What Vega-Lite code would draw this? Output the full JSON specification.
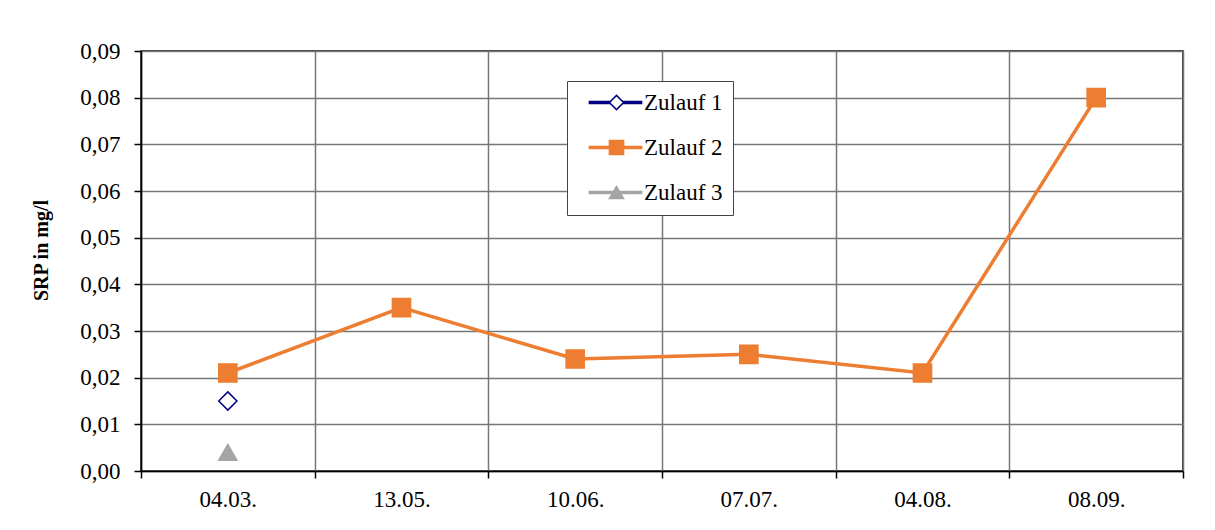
{
  "$schema": "https://vega.github.io/schema/vega-lite/v6.json",
  "autosize": "none",
  "width": 1042,
  "height": 420,
  "padding": {"left": 141, "top": 51, "right": 32, "bottom": 59},
  "background": "white",
  "config": {
    "view": {"stroke": "black", "strokeWidth": 1.5},
    "font": "Liberation Serif"
  },
  "data": {
    "values": [
      {"date": "04.03.", "series": "Zulauf 1", "value": 0.015},
      {"date": "04.03.", "series": "Zulauf 2", "value": 0.021},
      {"date": "13.05.", "series": "Zulauf 2", "value": 0.035},
      {"date": "10.06.", "series": "Zulauf 2", "value": 0.024},
      {"date": "07.07.", "series": "Zulauf 2", "value": 0.025},
      {"date": "04.08.", "series": "Zulauf 2", "value": 0.021},
      {"date": "08.09.", "series": "Zulauf 2", "value": 0.08},
      {"date": "04.03.", "series": "Zulauf 3", "value": 0.004}
    ]
  },
  "encoding": {
    "x": {
      "field": "date", "type": "nominal",
      "scale": {"domain": ["04.03.", "13.05.", "10.06.", "07.07.", "04.08.", "08.09."], "paddingInner": 0, "paddingOuter": 0},
      "axis": {
        "title": null, "labelAngle": 0, "tickBand": "extent", "grid": true,
        "gridColor": "#777777", "gridWidth": 1.5, "gridOpacity": 1,
        "domainColor": "black", "domainWidth": 1.5, "tickColor": "black", "tickWidth": 1.5, "tickSize": 7,
        "labelFont": "Liberation Serif", "labelFontSize": 23, "labelColor": "black", "labelPadding": 10
      }
    },
    "y": {
      "field": "value", "type": "quantitative",
      "scale": {"domain": [0, 0.09], "nice": false, "zero": true},
      "axis": {
        "title": "SRP in mg/l", "titleFont": "Liberation Serif", "titleFontSize": 20, "titleFontWeight": "bold", "titleColor": "black", "titlePadding": 28, "titleY": 199,
        "values": [0, 0.01, 0.02, 0.03, 0.04, 0.05, 0.06, 0.07, 0.08, 0.09],
        "labelExpr": "replace(format(datum.value, '.2f'), '.', ',')",
        "grid": true, "gridColor": "#777777", "gridWidth": 1.5, "gridOpacity": 1,
        "domainColor": "black", "domainWidth": 1.5, "tickColor": "black", "tickWidth": 1.5, "tickSize": 7,
        "labelFont": "Liberation Serif", "labelFontSize": 23, "labelColor": "black", "labelPadding": 14
      }
    }
  },
  "layer": [
    {
      "mark": {"type": "line", "strokeWidth": 3.5},
      "encoding": {
        "color": {
          "field": "series", "type": "nominal",
          "scale": {"range": ["#000080", "#ED7D31", "#A5A5A5"]},
          "legend": {
            "title": null, "orient": "none", "legendX": 426, "legendY": 30,
            "padding": 10, "rowPadding": 21, "strokeColor": "#444444", "fillColor": "white",
            "symbolType": "M-3.8,0H3.8", "symbolSize": 200, "symbolStrokeWidth": 3.5,
            "symbolOffset": 27, "labelOffset": 17,
            "labelFont": "Liberation Serif", "labelFontSize": 23, "labelColor": "black"
          }
        }
      }
    },
    {
      "transform": [{"filter": "isValid(datum.value)"}],
      "mark": {"type": "point", "size": 330, "strokeWidth": 1.5, "opacity": 1},
      "encoding": {
        "shape": {
          "field": "series", "type": "nominal",
          "scale": {"domain": ["Zulauf 1", "Zulauf 2", "Zulauf 3"], "range": ["diamond", "square", "triangle-up"]},
          "legend": {
            "title": null, "orient": "none", "legendX": 426, "legendY": 30,
            "padding": 10, "rowPadding": 21,
            "symbolSize": 200, "symbolStrokeWidth": 1.5, "symbolOpacity": 1,
            "symbolOffset": 28, "labelOffset": 17, "labelOpacity": 0,
            "labelFont": "Liberation Serif", "labelFontSize": 23
          }
        },
        "fill": {
          "field": "series", "type": "nominal",
          "scale": {"domain": ["Zulauf 1", "Zulauf 2", "Zulauf 3"], "range": ["white", "#ED7D31", "#A5A5A5"]}
        },
        "stroke": {
          "field": "series", "type": "nominal",
          "scale": {"domain": ["Zulauf 1", "Zulauf 2", "Zulauf 3"], "range": ["#000080", "#ED7D31", "#A5A5A5"]}
        }
      }
    }
  ]
}
